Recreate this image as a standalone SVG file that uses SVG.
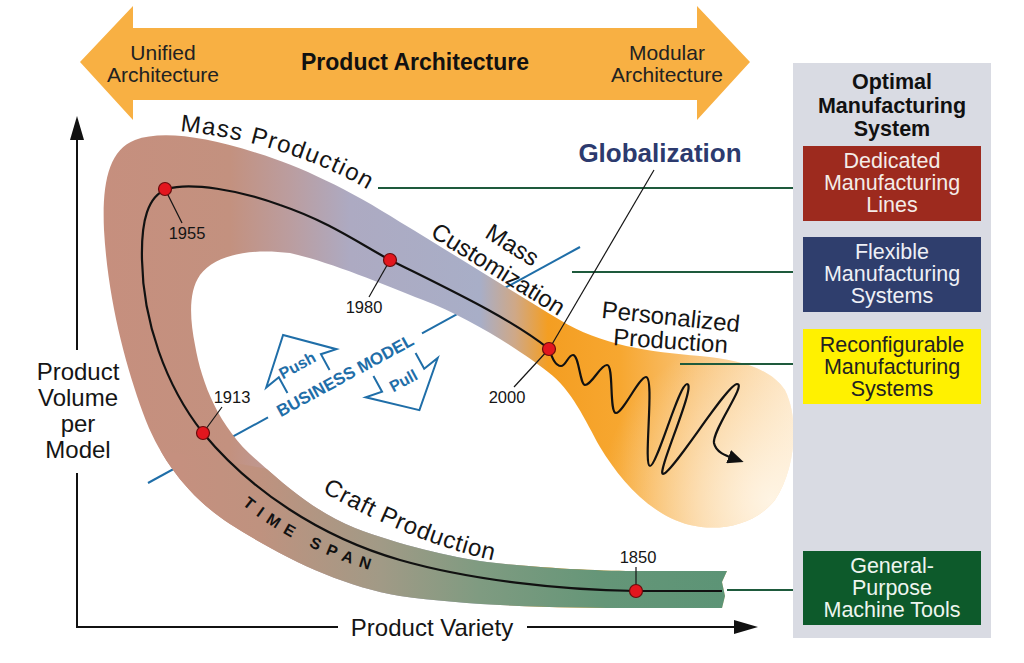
<svg xmlns="http://www.w3.org/2000/svg" width="1024" height="663" viewBox="0 0 1024 663">
<defs>
<style>
.f{font-family:"Liberation Sans",Arial,sans-serif;}
.lbl{font-family:"Liberation Sans",Arial,sans-serif;font-size:24px;fill:#151515;}
.yr{font-family:"Liberation Sans",Arial,sans-serif;font-size:16.5px;fill:#151515;text-anchor:middle;}
.box{font-family:"Liberation Sans",Arial,sans-serif;font-size:21.5px;text-anchor:middle;}
.ttl{font-family:"Liberation Sans",Arial,sans-serif;font-size:21.5px;font-weight:bold;text-anchor:middle;fill:#111;}
.conn{stroke:#1e5a3c;stroke-width:2;fill:none;}
.dot{fill:#e3161e;stroke:#6a0c0c;stroke-width:1.2;}
.lead{stroke:#151515;stroke-width:1.2;fill:none;}
.bm{fill:none;stroke:#1f6ea8;stroke-width:2;}
.bmt{font-family:"Liberation Sans",Arial,sans-serif;font-weight:bold;fill:#1f6ea8;text-anchor:middle;}
.axis{stroke:#111;stroke-width:2;fill:none;}
</style>
<linearGradient id="gU" gradientUnits="userSpaceOnUse" x1="100" y1="0" x2="800" y2="0">
<stop offset="0" stop-color="#c68f7e"/>
<stop offset="0.186" stop-color="#c3917f"/>
<stop offset="0.271" stop-color="#bb9d9f"/>
<stop offset="0.357" stop-color="#adaac2"/>
<stop offset="0.543" stop-color="#a8aec7"/>
<stop offset="0.593" stop-color="#cfa887"/>
<stop offset="0.64" stop-color="#f49e22"/>
<stop offset="0.743" stop-color="#f7a730"/>
<stop offset="0.857" stop-color="#f9c47a"/>
<stop offset="1" stop-color="#fde6c6"/>
</linearGradient>
<linearGradient id="gL" gradientUnits="userSpaceOnUse" x1="180" y1="0" x2="730" y2="0">
<stop offset="0" stop-color="#c5907f"/>
<stop offset="0.145" stop-color="#bf927f"/>
<stop offset="0.364" stop-color="#a19a86"/>
<stop offset="0.545" stop-color="#7f9b81"/>
<stop offset="0.764" stop-color="#659678"/>
<stop offset="1" stop-color="#5c9476"/>
</linearGradient>
<radialGradient id="gB" gradientUnits="userSpaceOnUse" cx="770" cy="500" r="170">
<stop offset="0" stop-color="#fff8ec" stop-opacity="0.85"/>
<stop offset="1" stop-color="#fff8ec" stop-opacity="0"/>
</radialGradient>
<path id="bandOutline" d="M722,608 L640,608 C560,608 470,606 400,596 C340,586 280,556 230,524 C190,498 160,460 143,413 C125,363 108,300 104,230 C102,185 108,150 135,140 C160,131 200,135 257,153 C300,166 350,190 400,222 C450,252 510,290 560,320 C600,345 650,352 700,356 C740,360 770,368 785,390 C800,420 795,470 775,500 C755,525 720,532 690,525 C650,515 620,480 600,447 C585,420 572,390 548,372 C520,350 470,318 423,300 C380,283 330,262 290,253 C250,248 215,255 200,275 C188,292 190,320 195,345 C202,385 220,430 260,463 C292,492 322,515 355,528 C400,545 450,557 487,562 C540,568 600,571 640,571 L727,571 L722,582 L725,596 Z"/>
<clipPath id="bandClip"><use href="#bandOutline"/></clipPath>
<path id="pMass" d="M180,131 C240,137 310,155 372,192"/>
<path id="pCraft" d="M322,492 C372,519 430,547 500,562"/>
<path id="pTime" d="M239,502 Q292,547 376,572"/>
<marker id="ah" markerUnits="userSpaceOnUse" markerWidth="16" markerHeight="14" refX="10" refY="7" orient="auto">
<path d="M0,0 L16,7 L0,14 Z" fill="#111"/>
</marker>
</defs>

<rect width="1024" height="663" fill="#ffffff"/>

<g id="product-architecture">
<polygon points="80,62 133,6 133,28 697,28 697,6 750,62 697,120 697,100 133,100 133,120" fill="#f8b043"/>
<text class="f" x="163" y="60" font-size="21" text-anchor="middle" fill="#222">Unified</text>
<text class="f" x="163" y="82" font-size="21" text-anchor="middle" fill="#222">Architecture</text>
<text class="f" x="415" y="70" font-size="23" font-weight="bold" text-anchor="middle" fill="#111">Product Architecture</text>
<text class="f" x="667" y="60" font-size="21" text-anchor="middle" fill="#222">Modular</text>
<text class="f" x="667" y="82" font-size="21" text-anchor="middle" fill="#222">Architecture</text>
</g>

<g id="business-model-line">
<line class="bm" x1="148" y1="483" x2="268" y2="417.4"/>
<line class="bm" x1="422" y1="333.3" x2="580" y2="247"/>
</g>

<g id="band">
<use href="#bandOutline" fill="url(#gU)"/>
<g clip-path="url(#bandClip)">
<polygon points="0,423 1024,598 1024,663 0,663" fill="url(#gL)"/>
<rect x="560" y="330" width="260" height="220" fill="url(#gB)"/>
</g>
</g>

<g id="axes">
<line class="axis" x1="77" y1="136" x2="77" y2="350"/>
<line class="axis" x1="77" y1="473" x2="77" y2="627"/>
<polygon points="77,116 70,140 84,140" fill="#111"/>
<line class="axis" x1="76" y1="627" x2="338" y2="627"/>
<line class="axis" x1="527" y1="627" x2="740" y2="627"/>
<polygon points="758,627 734,620 734,634" fill="#111"/>
<text class="lbl" x="78" y="380" text-anchor="middle">Product</text>
<text class="lbl" x="78" y="406" text-anchor="middle">Volume</text>
<text class="lbl" x="78" y="432" text-anchor="middle">per</text>
<text class="lbl" x="78" y="458" text-anchor="middle">Model</text>
<text class="lbl" x="432" y="636" text-anchor="middle">Product Variety</text>
</g>

<g id="connectors">
<line class="conn" x1="378" y1="188" x2="803" y2="188"/>
<line class="conn" x1="572" y1="272" x2="803" y2="272"/>
<line class="conn" x1="680" y1="364" x2="803" y2="364"/>
<line class="conn" x1="727" y1="590" x2="803" y2="590"/>
</g>

<g id="timeline">
<path d="M722,591 L636,591 C560,590 470,580 400,560 C320,537 250,490 203,433 C165,385 143,320 142,260 C141,220 148,196 167,189 C190,182 240,190 280,205 C330,222 360,244 390,260 C450,290 510,318 549,349" fill="none" stroke="#111" stroke-width="2.2"/>
<path d="M549,349 C552,357 555,366 561,366 C566,366 568,355 573,355 C579,355 580,385 585,385 C592,385 600,365 607,365 C614,365 609,413 616,413 C623,413 639,377 646,377 C655,377 643,466 650,466 C657,466 679,384 687,384 C697,384 656,474 663,474 C672,474 727,384 737,384 C747,384 712,430 714,443 C716,453 727,456 738,460" fill="none" stroke="#111" stroke-width="2.2" marker-end="url(#ah)"/>
<line class="lead" x1="654" y1="170" x2="551" y2="346"/>
<line class="lead" x1="165" y1="189" x2="182" y2="223"/>
<line class="lead" x1="390" y1="260" x2="369" y2="297"/>
<line class="lead" x1="549" y1="349" x2="514" y2="387"/>
<line class="lead" x1="203" y1="433" x2="222" y2="407"/>
<line class="lead" x1="636" y1="567" x2="636" y2="591"/>
</g>

<g id="year-1955"><circle class="dot" cx="165" cy="189" r="6.5"/><text class="yr" x="187" y="239">1955</text></g>
<g id="year-1980"><circle class="dot" cx="390" cy="260" r="6.5"/><text class="yr" x="364" y="313">1980</text></g>
<g id="year-2000"><circle class="dot" cx="549" cy="349" r="6.5"/><text class="yr" x="507" y="403">2000</text></g>
<g id="year-1913"><circle class="dot" cx="203" cy="433" r="6.5"/><text class="yr" x="232" y="403">1913</text></g>
<g id="year-1850"><circle class="dot" cx="636" cy="591" r="6.5"/><text class="yr" x="638" y="563">1850</text></g>

<g id="eras">
<text class="lbl"><textPath href="#pMass" textLength="198" lengthAdjust="spacing">Mass Production</textPath></text>
<text class="lbl" transform="translate(508,252) rotate(32)" text-anchor="middle">Mass</text>
<text class="lbl" transform="translate(494,276) rotate(32)" text-anchor="middle">Customization</text>
<text class="lbl" transform="translate(670,325) rotate(6)" text-anchor="middle">Personalized</text>
<text class="lbl" transform="translate(670,349) rotate(4)" text-anchor="middle">Production</text>
<text class="lbl"><textPath href="#pCraft" textLength="185" lengthAdjust="spacing">Craft Production</textPath></text>
<text class="f" font-size="16" font-weight="bold" fill="#111"><textPath href="#pTime" startOffset="4" textLength="144" lengthAdjust="spacing">TIME SPAN</textPath></text>
<text class="f" x="660" y="162" font-size="26" font-weight="bold" text-anchor="middle" fill="#2c3a6e">Globalization</text>
</g>

<g id="business-model">
<text class="bmt" font-size="17" transform="translate(345,375.4) rotate(-28.64)" y="6">BUSINESS MODEL</text>
<g id="push" transform="translate(308.5,381.5) rotate(-28.64)">
<polyline class="bm" points="-24,0 -24,-18 -40,-15 0,-53 40,-15 24,-18 24,0"/>
<text class="bmt" font-size="16" x="-2" y="-14">Push</text>
</g>
<g id="pull" transform="translate(394.5,364.5) rotate(-28.64)">
<polyline class="bm" points="-24,0 -24,18 -41,15 0,52 41,15 24,18 24,0"/>
<text class="bmt" font-size="16" x="0" y="24">Pull</text>
</g>
</g>

<g id="optimal-manufacturing-system">
<rect x="793" y="63" width="198" height="575" fill="#d9dbe3"/>
<text class="ttl" x="892" y="89">Optimal</text>
<text class="ttl" x="892" y="112.5">Manufacturing</text>
<text class="ttl" x="892" y="136">System</text>
</g>
<g id="dedicated-lines">
<rect x="803" y="146" width="178" height="75" fill="#9d2a1e"/>
<text class="box" fill="#f4ece8" x="892" y="168">Dedicated</text>
<text class="box" fill="#f4ece8" x="892" y="190">Manufacturing</text>
<text class="box" fill="#f4ece8" x="892" y="212">Lines</text>
</g>
<g id="flexible-systems">
<rect x="803" y="237" width="178" height="75" fill="#2f3e6d"/>
<text class="box" fill="#eef0f6" x="892" y="259">Flexible</text>
<text class="box" fill="#eef0f6" x="892" y="281">Manufacturing</text>
<text class="box" fill="#eef0f6" x="892" y="303">Systems</text>
</g>
<g id="reconfigurable-systems">
<rect x="803" y="329" width="178" height="75" fill="#fff100"/>
<text class="box" fill="#222" x="892" y="352">Reconfigurable</text>
<text class="box" fill="#222" x="892" y="374">Manufacturing</text>
<text class="box" fill="#222" x="892" y="396">Systems</text>
</g>
<g id="general-purpose-tools">
<rect x="803" y="551" width="178" height="74" fill="#0d5a2b"/>
<text class="box" fill="#eef5ef" x="892" y="573">General-</text>
<text class="box" fill="#eef5ef" x="892" y="595">Purpose</text>
<text class="box" fill="#eef5ef" x="892" y="617">Machine Tools</text>
</g>
</svg>
